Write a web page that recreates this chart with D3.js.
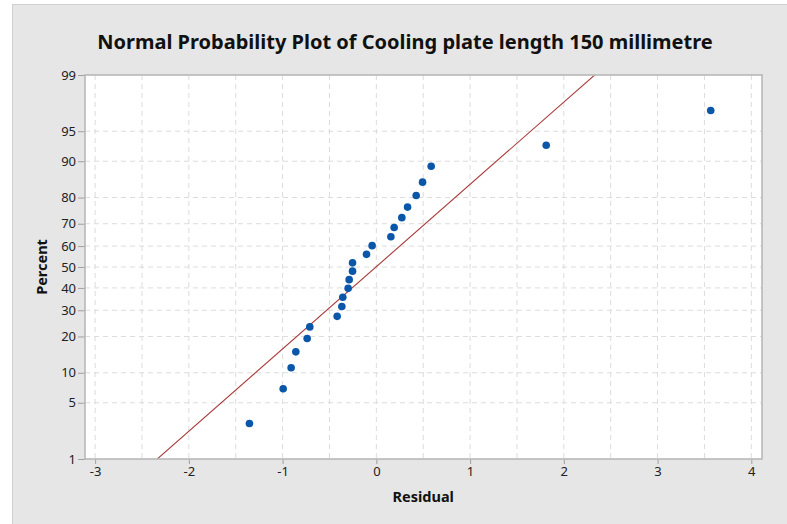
<!DOCTYPE html>
<html lang="en">
<head>
    <meta charset="utf-8">
    <title>Normal Probability Plot</title>
    <script src="https://d3js.org/d3.v7.min.js"></script>
    <style>
        body { margin: 0; background: #fff; }
        svg text { font-family: "Noto Sans", "Open Sans", sans-serif; }
    </style>
</head>
<body>
    <div id="chart"></div>
    <script>
        // data
        var residuals = [-1.354, -0.994, -0.909, -0.859, -0.738, -0.710, -0.418, -0.368,
                         -0.358, -0.301, -0.290, -0.254, -0.254, -0.105, -0.045, 0.155,
                          0.190,  0.272,  0.333,  0.425,  0.493,  0.585,  1.812,  3.567];
        var percents = [2.9, 7.0, 11.1, 15.2, 19.3, 23.4, 27.5, 31.6, 35.7, 39.8, 43.9, 48.0,
                        52.0, 56.1, 60.2, 64.3, 68.4, 72.5, 76.6, 80.7, 84.8, 88.9, 93.0, 97.1];
        var xTicks = [-3, -2, -1, 0, 1, 2, 3, 4];
        var xGrid = [-3, -2.5, -2, -1.5, -1, -0.5, 0, 0.5, 1, 1.5, 2, 2.5, 3, 3.5, 4];
        var yTicks = [1, 5, 10, 20, 30, 40, 50, 60, 70, 80, 90, 95, 99];
        var fitMean = -0.004;   // reference line
        var fitSd = 1.003;

        var W = 787, H = 524;
        var margin = { top: 75, right: 25, bottom: 65, left: 85 };
        var width = W - margin.left - margin.right;
        var height = H - margin.top - margin.bottom;

        // inverse normal cdf (Acklam)
        function probit(p) {
            var a = [-39.69683028665376, 220.9460984245205, -275.9285104469687, 138.3577518672690, -30.66479806614716, 2.506628277459239];
            var b = [-54.47609879822406, 161.5858368580409, -155.6989798598866, 66.80131188771972, -13.28068155288572];
            var c = [-0.007784894002430293, -0.3223964580411365, -2.400758277161838, -2.549732539343734, 4.374664141464968, 2.938163982698783];
            var d = [0.007784695709041462, 0.3224671290700398, 2.445134137142996, 3.754408661907416];
            var q, r;
            if (p < 0.02425) {
                q = Math.sqrt(-2 * Math.log(p));
                return (((((c[0]*q+c[1])*q+c[2])*q+c[3])*q+c[4])*q+c[5]) / ((((d[0]*q+d[1])*q+d[2])*q+d[3])*q+1);
            } else if (p > 1 - 0.02425) {
                q = Math.sqrt(-2 * Math.log(1 - p));
                return -(((((c[0]*q+c[1])*q+c[2])*q+c[3])*q+c[4])*q+c[5]) / ((((d[0]*q+d[1])*q+d[2])*q+d[3])*q+1);
            }
            q = p - 0.5; r = q * q;
            return (((((a[0]*r+a[1])*r+a[2])*r+a[3])*r+a[4])*r+a[5])*q / (((((b[0]*r+b[1])*r+b[2])*r+b[3])*r+b[4])*r+1);
        }

        var svg = d3.select("#chart").append("svg")
            .attr("width", W)
            .attr("height", H);

        // grey panel
        svg.append("rect")
            .attr("x", 12.5).attr("y", 4.5)
            .attr("width", W).attr("height", H)
            .attr("fill", "#e6e6e6")
            .attr("stroke", "#cfcfcf");

        var g = svg.append("g")
            .attr("transform", "translate(" + margin.left + "," + margin.top + ")");

        var xScale = d3.scaleLinear()
            .domain([-3.108, 4.114])
            .range([0, width]);

        var zScale = d3.scaleLinear()
            .domain([probit(0.01), probit(0.99)])
            .range([height, 0]);
        function yScale(p) { return zScale(probit(p / 100)); }

        g.append("rect")
            .attr("width", width)
            .attr("height", height)
            .attr("fill", "#fff");

        // grid
        g.append("g").selectAll("line")
            .data(xGrid)
            .enter().append("line")
            .attr("x1", function(d) { return xScale(d); })
            .attr("x2", function(d) { return xScale(d); })
            .attr("y1", 0).attr("y2", height)
            .attr("stroke", "#dcdcdc")
            .attr("stroke-dasharray", "5,4");

        g.append("g").selectAll("line")
            .data(yTicks.filter(function(d) { return d > 1 && d < 99; }))
            .enter().append("line")
            .attr("y1", function(d) { return yScale(d); })
            .attr("y2", function(d) { return yScale(d); })
            .attr("x1", 0).attr("x2", width)
            .attr("stroke", "#dcdcdc")
            .attr("stroke-dasharray", "5,4");

        // fitted line, clipped to the plot area
        g.append("clipPath").attr("id", "clip")
            .append("rect").attr("width", width).attr("height", height);
        var zEnds = [probit(0.005), probit(0.995)];
        g.append("line")
            .attr("clip-path", "url(#clip)")
            .attr("x1", xScale(fitMean + fitSd * zEnds[0]))
            .attr("y1", zScale(zEnds[0]))
            .attr("x2", xScale(fitMean + fitSd * zEnds[1]))
            .attr("y2", zScale(zEnds[1]))
            .attr("stroke", "#a83838")
            .attr("stroke-width", 1.1);

        // points
        g.append("g").selectAll("circle")
            .data(residuals)
            .enter().append("circle")
            .attr("cx", function(d) { return xScale(d); })
            .attr("cy", function(d, i) { return yScale(percents[i]); })
            .attr("r", 3.8)
            .attr("fill", "#0a56a8");

        // x axis
        var xAxis = g.append("g")
            .attr("transform", "translate(0," + height + ")")
            .call(d3.axisBottom(xScale).tickValues(xTicks).tickSize(5).tickPadding(3)
                .tickFormat(function(d) { return String(d); }));

        // y axis
        var yAxisScale = d3.scaleLinear().domain(zScale.domain()).range(zScale.range());
        var yAxis = g.append("g")
            .call(d3.axisLeft(yAxisScale)
                .tickValues(yTicks.map(function(d) { return probit(d / 100); }))
                .tickFormat(function(d, i) { return yTicks[i]; })
                .tickSize(7).tickPadding(2));

        [xAxis, yAxis].forEach(function(ax) {
            ax.select(".domain").remove();
            ax.selectAll(".tick line").attr("stroke", "#a0a0a0");
            ax.selectAll(".tick text")
                .attr("fill", "#222")
                .style("font-size", "13px")
                .style("font-family", "'Noto Sans', sans-serif");
        });

        // plot frame
        g.append("rect")
            .attr("width", width)
            .attr("height", height)
            .attr("fill", "none")
            .attr("stroke", "#b8b8b8")
            .attr("stroke-width", 1.6);

        // title
        svg.append("text")
            .attr("x", 405)
            .attr("y", 49)
            .attr("text-anchor", "middle")
            .style("font-size", "20px")
            .style("font-weight", "bold")
            .attr("fill", "#111")
            .text("Normal Probability Plot of Cooling plate length 150 millimetre");

        // axis labels
        svg.append("text")
            .attr("x", margin.left + xScale(0.5))
            .attr("y", 502)
            .attr("text-anchor", "middle")
            .style("font-size", "14.5px")
            .style("font-weight", "bold")
            .attr("fill", "#111")
            .text("Residual");

        svg.append("text")
            .attr("transform", "translate(47,267) rotate(-90)")
            .attr("text-anchor", "middle")
            .style("font-size", "14.5px")
            .style("font-weight", "bold")
            .attr("fill", "#111")
            .text("Percent");
    </script>
</body>
</html>
